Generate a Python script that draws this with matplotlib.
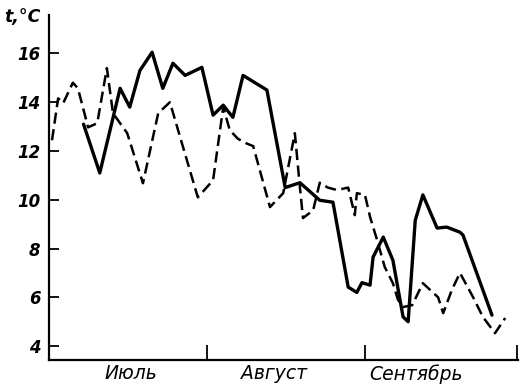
import matplotlib
matplotlib.use('Agg')
import matplotlib.pyplot as plt

# day numbers counted from 1 July, temperature in °C
solid_days = [6.6, 9.8, 13.8, 15.7, 17.7, 20.1, 22.2, 24.2, 26.6, 29.9, 32.1, 34.1,
              36.0, 38.0, 42.7, 46.3, 49.2, 53.1, 55.7, 58.7, 60.4, 61.4, 63.0, 63.6,
              65.6, 67.5, 69.5, 70.5, 71.9, 73.4, 76.2, 78.1, 80.7, 81.3, 87.0]
solid_temp = [13.1, 11.1, 14.57, 13.8, 15.3, 16.05, 14.57, 15.6, 15.1, 15.43, 13.47, 13.88,
              13.38, 15.1, 14.5, 10.5, 10.7, 9.98, 9.9, 6.42, 6.2, 6.6, 6.5, 7.65,
              8.47, 7.52, 5.2, 5.0, 9.16, 10.2, 8.84, 8.88, 8.67, 8.55, 5.27]

dash_days = [0.4, 1.6, 2.6, 4.5, 5.5, 7.5, 9.3, 11.2, 12.4, 15.2, 18.3, 21.3, 23.6,
             29.1, 32.1, 34.1, 35.4, 37.0, 38.8, 40.0, 43.3, 45.9, 48.2, 49.2, 49.8,
             51.8, 53.1, 54.7, 56.5, 58.7, 60.0, 60.4, 62.0, 63.0, 64.4, 65.9, 67.5,
             68.5, 69.5, 71.3, 73.4, 76.4, 77.4, 79.1, 80.7, 83.3, 85.2, 87.6, 89.6]
dash_temp = [12.44, 14.16, 13.96, 14.8, 14.57, 12.97, 13.14, 15.4, 13.55, 12.73, 10.68, 13.55, 14.0,
             10.1, 10.8, 13.8, 12.85, 12.5, 12.3, 12.2, 9.7, 10.27, 12.73, 10.5, 9.25,
             9.57, 10.7, 10.5, 10.4, 10.5, 9.37, 10.27, 10.2, 9.3, 8.34, 7.24, 6.58,
             5.9, 5.6, 5.68, 6.58, 6.0, 5.35, 6.3, 7.0, 6.0, 5.2, 4.53, 5.15]

month_edges = [31, 62, 92]
month_pos = [16, 44, 72]
month_names = ['Июль', 'Август', 'Сентябрь']
y_ticks = [4, 6, 8, 10, 12, 14, 16]

fig = plt.figure(figsize=(5.21, 3.84), dpi=100, facecolor='white')
ax = fig.add_axes([0.094, 0.0625, 0.900, 0.898])

ax.plot(solid_days, solid_temp, color='black', linewidth=2.4,
        solid_joinstyle='round', solid_capstyle='round')
ax.plot(dash_days, dash_temp, color='black', linewidth=1.8, dashes=(4.5, 2.2),
        dash_joinstyle='round')

ax.set_xlim(-0.2, 92.1)
ax.set_ylim(3.43, 17.57)

ax.spines[['top', 'right']].set_visible(False)
for s in ['left', 'bottom']:
    ax.spines[s].set_linewidth(1.6)

ax.set_yticks(y_ticks)
ax.set_yticklabels([str(v) for v in y_ticks], fontsize=12, fontstyle='italic',
                   fontweight='bold')
ax.tick_params(axis='y', direction='in', length=7, width=1.3, pad=6)

ax.set_xticks(month_edges)
ax.set_xticklabels([])
ax.tick_params(axis='x', which='major', direction='in', length=11, width=1.3)
ax.set_xticks(month_pos, minor=True)
ax.set_xticklabels(month_names, minor=True, fontsize=13.5, fontstyle='italic')
ax.tick_params(axis='x', which='minor', length=0, pad=3)

fig.text(0.008, 0.955, 't,°C', fontsize=12.5, fontstyle='italic', fontweight='bold',
         va='center', ha='left')

fig.savefig('out.png', dpi=100, facecolor='white')
